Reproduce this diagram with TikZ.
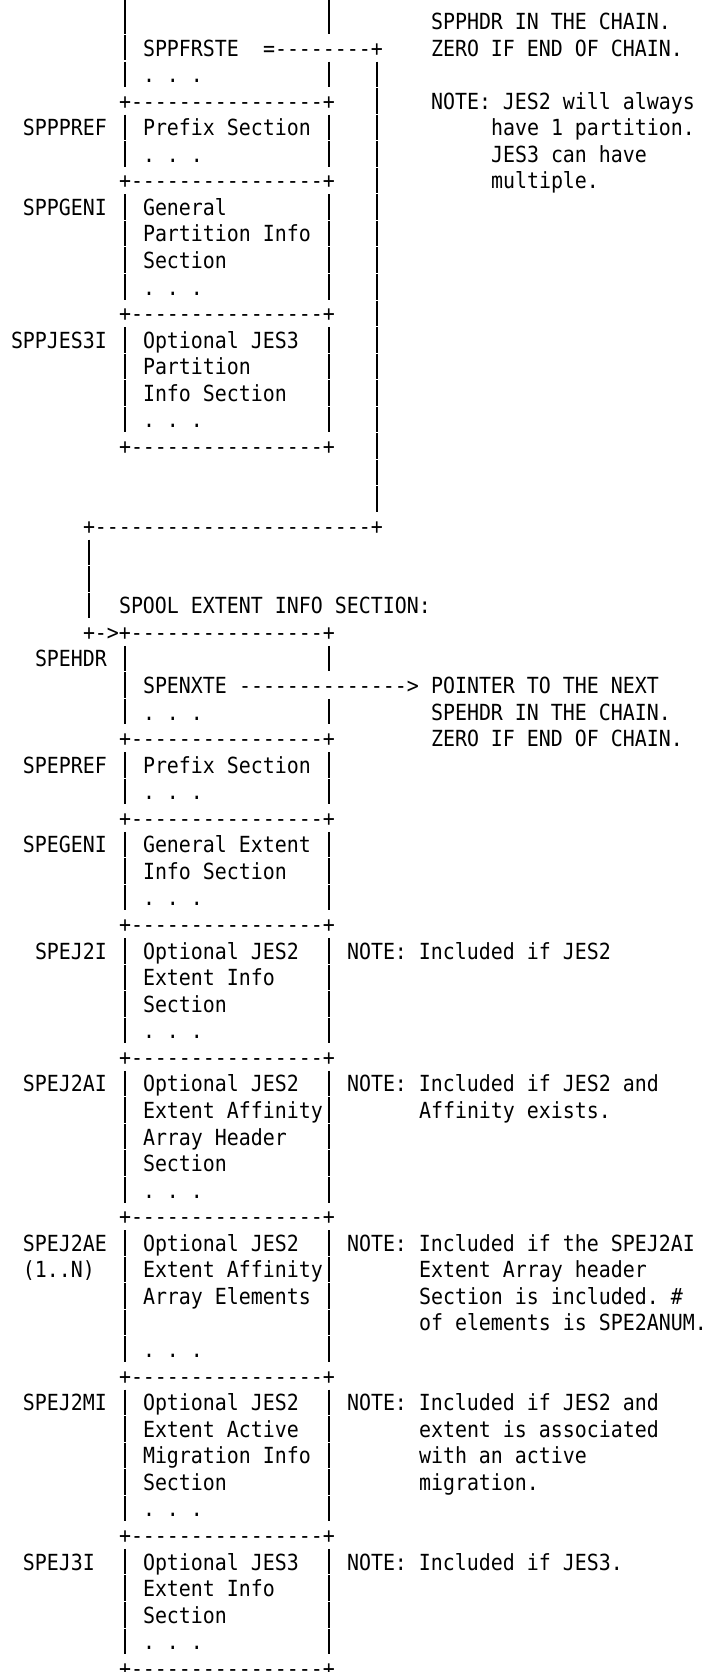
\documentclass[tikz,border=0pt]{standalone}
\usepackage{fontspec}
\newfontfamily\mono[FakeStretch=0.8978,Ligatures=NoCommon]{DejaVu Sans Mono}
\newcommand\tx[3]{\node[txt] (r#1c#2) at ({11+12*#2},{29.5+26.56*#1}) {#3};}
\newcommand\vb[2]{\draw[bar] ({17+12*#2},{21.4+26.56*#1-13}) -- ({17+12*#2},{21.4+26.56*#1+12.5});}
\newcommand\plusline{+----------------+}
\newcommand\dotsrow{. . .}
\begin{document}
\begin{tikzpicture}[x=1pt,y=-1pt,
  txt/.style={anchor=base west,inner sep=0pt,outer sep=0pt,text=black,
    font=\mono\fontsize{22.2}{26}\selectfont\frenchspacing},
  bar/.style={draw=black,line width=1.5pt,line cap=butt}]
\useasboundingbox (0,0) rectangle (707,1672);
% top bars of row 0
\draw[bar] (125,0) -- (125,33.9);
\draw[bar] (329,0) -- (329,33.9);
\foreach \r in {1,2,4,5,7,8,9,10,12,13,14,15,24,25,26,28,29,31,32,33,35,36,37,38,40,41,42,43,44,46,47,48,49,50,52,53,54,55,56,58,59,60,61} {\vb{\r}{9}}
\foreach \r in {2,4,5,7,8,9,10,12,13,14,15,24,26,28,29,31,32,33,35,36,37,38,40,41,42,43,44,46,47,48,49,50,52,53,54,55,56,58,59,60,61} {\vb{\r}{26}}
\foreach \r in {2,...,18} {\vb{\r}{30}}
\foreach \r in {20,21,22} {\vb{\r}{6}}
% partition section
\tx{0}{35}{SPPHDR IN THE CHAIN.}
\tx{1}{11}{SPPFRSTE}
\tx{1}{21}{=--------+}
\tx{1}{35}{ZERO IF END OF CHAIN.}
\tx{2}{11}{\dotsrow}
\tx{3}{9}{\plusline}
\tx{3}{35}{NOTE: JES2 will always}
\tx{4}{1}{SPPPREF}
\tx{4}{11}{Prefix Section}
\tx{4}{40}{have 1 partition.}
\tx{5}{11}{\dotsrow}
\tx{5}{40}{JES3 can have}
\tx{6}{9}{\plusline}
\tx{6}{40}{multiple.}
\tx{7}{1}{SPPGENI}
\tx{7}{11}{General}
\tx{8}{11}{Partition Info}
\tx{9}{11}{Section}
\tx{10}{11}{\dotsrow}
\tx{11}{9}{\plusline}
\tx{12}{0}{SPPJES3I}
\tx{12}{11}{Optional JES3}
\tx{13}{11}{Partition}
\tx{14}{11}{Info Section}
\tx{15}{11}{\dotsrow}
\tx{16}{9}{\plusline}
\tx{19}{6}{+-----------------------+}
% extent section
\tx{22}{9}{SPOOL EXTENT INFO SECTION:}
\tx{23}{6}{+->+----------------+}
\tx{24}{2}{SPEHDR}
\tx{25}{11}{SPENXTE}
\tx{25}{19}{-------------->}
\tx{25}{35}{POINTER TO THE NEXT}
\tx{26}{11}{\dotsrow}
\tx{26}{35}{SPEHDR IN THE CHAIN.}
\tx{27}{9}{\plusline}
\tx{27}{35}{ZERO IF END OF CHAIN.}
\tx{28}{1}{SPEPREF}
\tx{28}{11}{Prefix Section}
\tx{29}{11}{\dotsrow}
\tx{30}{9}{\plusline}
\tx{31}{1}{SPEGENI}
\tx{31}{11}{General Extent}
\tx{32}{11}{Info Section}
\tx{33}{11}{\dotsrow}
\tx{34}{9}{\plusline}
\tx{35}{2}{SPEJ2I}
\tx{35}{11}{Optional JES2}
\tx{35}{28}{NOTE: Included if JES2}
\tx{36}{11}{Extent Info}
\tx{37}{11}{Section}
\tx{38}{11}{\dotsrow}
\tx{39}{9}{\plusline}
\tx{40}{1}{SPEJ2AI}
\tx{40}{11}{Optional JES2}
\tx{40}{28}{NOTE: Included if JES2 and}
\tx{41}{11}{Extent Affinity}
\tx{41}{34}{Affinity exists.}
\tx{42}{11}{Array Header}
\tx{43}{11}{Section}
\tx{44}{11}{\dotsrow}
\tx{45}{9}{\plusline}
\tx{46}{1}{SPEJ2AE}
\tx{46}{11}{Optional JES2}
\tx{46}{28}{NOTE: Included if the SPEJ2AI}
\tx{47}{1}{(1..N)}
\tx{47}{11}{Extent Affinity}
\tx{47}{34}{Extent Array header}
\tx{48}{11}{Array Elements}
\tx{48}{34}{Section is included. \#}
\tx{49}{34}{of elements is SPE2ANUM.}
\tx{50}{11}{\dotsrow}
\tx{51}{9}{\plusline}
\tx{52}{1}{SPEJ2MI}
\tx{52}{11}{Optional JES2}
\tx{52}{28}{NOTE: Included if JES2 and}
\tx{53}{11}{Extent Active}
\tx{53}{34}{extent is associated}
\tx{54}{11}{Migration Info}
\tx{54}{34}{with an active}
\tx{55}{11}{Section}
\tx{55}{34}{migration.}
\tx{56}{11}{\dotsrow}
\tx{57}{9}{\plusline}
\tx{58}{1}{SPEJ3I}
\tx{58}{11}{Optional JES3}
\tx{58}{28}{NOTE: Included if JES3.}
\tx{59}{11}{Extent Info}
\tx{60}{11}{Section}
\tx{61}{11}{\dotsrow}
\tx{62}{9}{\plusline}
\end{tikzpicture}
\end{document}
